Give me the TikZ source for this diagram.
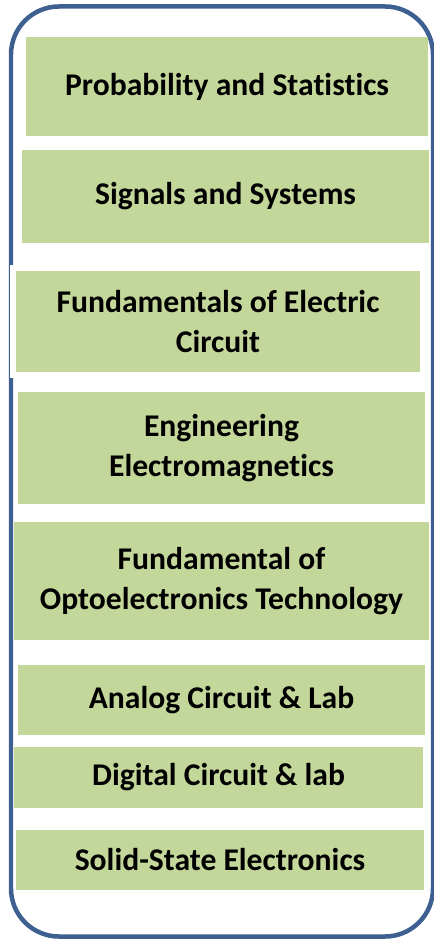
\documentclass[tikz,border=0pt]{standalone}
\usepackage{fontspec}
\setmainfont{Carlito}[Ligatures=NoCommon]
\usepackage{tikz}
\usetikzlibrary{shapes}
\usetikzlibrary{arrows,backgrounds,positioning,fit}

\definecolor{frameblue}{RGB}{61,96,145}
\definecolor{coursegreen}{RGB}{196,215,155}

\begin{document}
\begin{tikzpicture}
      [x=0.02cm, y=-0.02cm,
       course/.style={fill=coursegreen, inner sep=0pt, outer sep=0pt, align=center,
                      font=\fontsize{18}{22.7}\selectfont\bfseries}]
      \useasboundingbox (0,0) rectangle (433,939);
      \draw [frameblue, line width=0.09cm, rounded corners=0.96cm] (11,6.5) rectangle (433,936.5);

      \node [course, minimum width=8.04cm, minimum height=1.98cm] (prob)    at (227,  86.5) {Probability and Statistics};
      \node [course, minimum width=8.14cm, minimum height=1.86cm] (sig)     at (225.5,196.5) {Signals and Systems};
      \node [course, minimum width=8.20cm, minimum height=2.14cm,
             draw=white, line width=0.12cm]                        (circ)    at (218,  321.5) {Fundamentals of Electric\\Circuit};
      \node [course, minimum width=8.14cm, minimum height=2.24cm] (emag)    at (221.5,448) {Engineering\\Electromagnetics};
      \node [course, minimum width=8.30cm, minimum height=2.36cm] (opto)    at (221.5,581) {Fundamental of\\Optoelectronics Technology};
      \node [course, minimum width=8.14cm, minimum height=1.40cm] (analog)  at (221.5,700) {Analog Circuit \& Lab};
      \node [course, minimum width=8.18cm, minimum height=1.22cm] (digital) at (218.5,777.5) {Digital Circuit \& lab};
      \node [course, minimum width=8.16cm, minimum height=1.20cm] (solid)   at (220,  860) {Solid-State Electronics};
    \end{tikzpicture}
\end{document}
